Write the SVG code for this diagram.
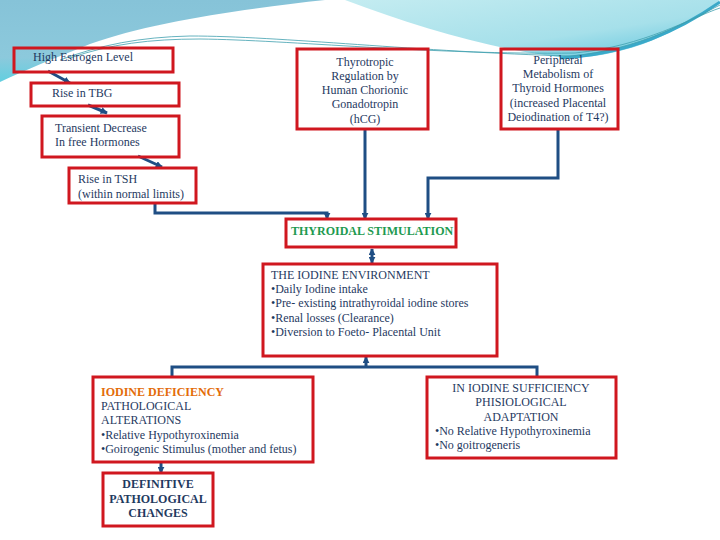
<svg xmlns="http://www.w3.org/2000/svg" width="720" height="540" viewBox="0 0 720 540" font-family="'Liberation Serif', 'DejaVu Serif', serif">
<defs>
<linearGradient id="gBlue" x1="0" y1="0" x2="0" y2="1">
<stop offset="0" stop-color="#86c3d8"/>
<stop offset="0.7" stop-color="#8cc9dc"/>
<stop offset="1" stop-color="#62cfe0"/>
</linearGradient>
<linearGradient id="gCyan" x1="0" y1="0" x2="1" y2="1">
<stop offset="0" stop-color="#c4ecf1"/>
<stop offset="0.6" stop-color="#a6e0ea"/>
<stop offset="1" stop-color="#58c2dc"/>
</linearGradient>
<marker id="ah" viewBox="0 0 10 10" refX="9" refY="5" markerWidth="7" markerHeight="7" markerUnits="userSpaceOnUse" orient="auto">
<path d="M0,0 L10,5 L0,10 Z" fill="#1f4e84"/>
</marker>
<marker id="ahs" viewBox="0 0 10 10" refX="9" refY="5" markerWidth="7" markerHeight="7" markerUnits="userSpaceOnUse" orient="auto-start-reverse">
<path d="M0,0 L10,5 L0,10 Z" fill="#1f4e84"/>
</marker>
<style>
.box{fill:none;stroke:#d0171f;stroke-width:3}
.t{font-family:'Liberation Serif','DejaVu Serif',serif;font-size:12px;fill:#1f3a5f}
.c{text-anchor:middle}
.b{font-weight:bold}
.con{fill:none;stroke:#1f4e84;stroke-width:3}
</style>
</defs>
<rect width="720" height="540" fill="#ffffff"/>
<g id="background">
<path d="M0,0 H325 C250,8 150,22 90,44 C55,58 25,70 0,82 Z" fill="url(#gBlue)"/>
<path d="M345,0 C420,28 500,52 570,58 C630,56 680,32 720,0 Z" fill="url(#gCyan)"/>
<path d="M560,58 C630,54 680,30 720,2" fill="none" stroke="#3aa9c9" stroke-width="3"/>
<path d="M60,60 C100,45 140,37 190,36 C280,36 420,52 570,56 C640,50 690,20 720,5" fill="none" stroke="#3f9fae" stroke-width="0.8"/>
<path d="M70,58 C110,44 150,39 200,39 C290,40 430,55 575,53 C645,46 690,18 720,8" fill="none" stroke="#3f9fae" stroke-width="0.8"/>
</g>
<g id="connectors">
<line class="con" x1="48" y1="71" x2="70" y2="83" marker-end="url(#ah)"/>
<line class="con" x1="88" y1="105" x2="107" y2="113" marker-end="url(#ah)"/>
<line class="con" x1="138" y1="156" x2="162" y2="167" marker-end="url(#ah)"/>
<polyline class="con" points="155,203 155,213 327,213 327,219" marker-end="url(#ah)"/>
<line class="con" x1="365" y1="129" x2="365" y2="219" marker-end="url(#ah)"/>
<polyline class="con" points="558,129 558,178 428,178 428,219" marker-end="url(#ah)"/>
<line class="con" x1="372" y1="249" x2="372" y2="263" marker-start="url(#ahs)" marker-end="url(#ah)"/>
<line class="con" x1="366" y1="367" x2="366" y2="357" marker-end="url(#ah)"/>
<polyline class="con" points="172,377 172,367 537,367 537,377"/>
<line class="con" x1="161" y1="462" x2="161" y2="473" marker-end="url(#ah)"/>
</g>
<g id="n-estrogen">
<rect class="box" x="14" y="48" width="159" height="24"/>
<text class="t" x="33" y="61">High Estrogen Level</text>
</g>
<g id="n-tbg">
<rect class="box" x="31" y="83" width="148" height="23"/>
<text class="t" x="52" y="97">Rise in TBG</text>
</g>
<g id="n-transient">
<rect class="box" x="42" y="116" width="137" height="41"/>
<text class="t" x="55" y="132">Transient Decrease</text>
<text class="t" x="55" y="146">In free Hormones</text>
</g>
<g id="n-tsh">
<rect class="box" x="69" y="168" width="127" height="35"/>
<text class="t" x="78" y="183">Rise in TSH</text>
<text class="t" x="78" y="198">(within normal limits)</text>
</g>
<g id="n-hcg">
<rect class="box" x="297" y="49" width="131" height="80"/>
<text class="t c" x="365" y="66">Thyrotropic</text>
<text class="t c" x="365" y="80">Regulation by</text>
<text class="t c" x="365" y="94">Human Chorionic</text>
<text class="t c" x="365" y="108">Gonadotropin</text>
<text class="t c" x="365" y="123">(hCG)</text>
</g>
<g id="n-peripheral">
<rect class="box" x="501" y="49" width="117" height="80"/>
<text class="t c" x="558" y="64">Peripheral</text>
<text class="t c" x="558" y="78">Metabolism of</text>
<text class="t c" x="558" y="92">Thyroid Hormones</text>
<text class="t c" x="558" y="107">(increased Placental</text>
<text class="t c" x="558" y="121">Deiodination of T4?)</text>
</g>
<g id="n-stimulation">
<rect class="box" x="286" y="219" width="170" height="28"/>
<text class="t b" x="291" y="235" style="fill:#1e9a50">THYROIDAL STIMULATION</text>
</g>
<g id="n-environment">
<rect class="box" x="263" y="264" width="234" height="92"/>
<text class="t" x="271" y="279">THE IODINE ENVIRONMENT</text>
<text class="t" x="271" y="293">•Daily Iodine intake</text>
<text class="t" x="271" y="307">•Pre- existing intrathyroidal iodine stores</text>
<text class="t" x="271" y="322">•Renal losses (Clearance)</text>
<text class="t" x="271" y="336">•Diversion to Foeto- Placental Unit</text>
</g>
<g id="n-deficiency">
<rect class="box" x="93" y="377" width="220" height="85"/>
<text class="t b" x="101" y="396" style="fill:#e36c0a">IODINE DEFICIENCY</text>
<text class="t" x="101" y="410">PATHOLOGICAL</text>
<text class="t" x="101" y="424">ALTERATIONS</text>
<text class="t" x="101" y="439">•Relative Hypothyroxinemia</text>
<text class="t" x="101" y="453">•Goirogenic Stimulus (mother and fetus)</text>
</g>
<g id="n-sufficiency">
<rect class="box" x="427" y="377" width="189" height="81"/>
<text class="t c" x="521" y="392">IN IODINE SUFFICIENCY</text>
<text class="t c" x="521" y="406">PHISIOLOGICAL</text>
<text class="t c" x="521" y="421">ADAPTATION</text>
<text class="t" x="435" y="435">•No Relative Hypothyroxinemia</text>
<text class="t" x="435" y="449">•No goitrogeneris</text>
</g>
<g id="n-definitive">
<rect class="box" x="103" y="473" width="110" height="53"/>
<text class="t c b" x="158" y="488">DEFINITIVE</text>
<text class="t c b" x="158" y="503">PATHOLOGICAL</text>
<text class="t c b" x="158" y="517">CHANGES</text>
</g>
</svg>
